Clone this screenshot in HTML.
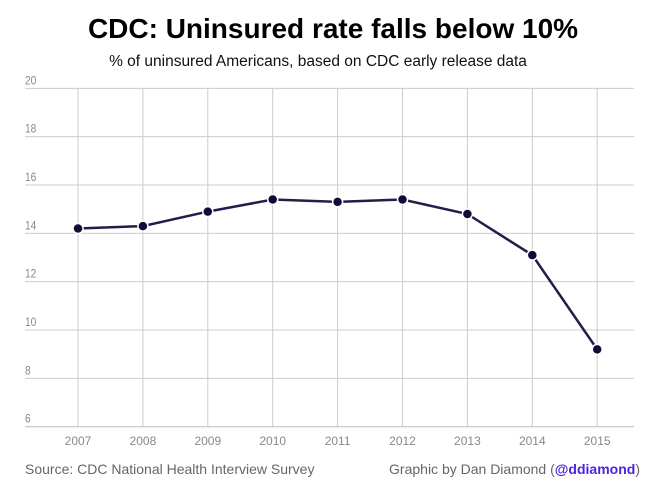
<!DOCTYPE html>
<html><head><meta charset="utf-8"><style>
body{margin:0;width:650px;height:490px;background:#fff;overflow:hidden;font-family:"Liberation Sans",sans-serif}
</style></head><body>
<svg width="650" height="490">
<text x="333" y="38" text-anchor="middle" font-size="28" font-weight="bold" fill="#000">CDC: Uninsured rate falls below 10%</text>
<text x="318" y="66" text-anchor="middle" font-size="15.5" fill="#111">% of uninsured Americans, based on CDC early release data</text>
<g id="grid"></g><g id="series"></g>
<text x="25" y="474" font-size="14" fill="#666">Source: CDC National Health Interview Survey</text>
<text x="640" y="474" text-anchor="end" font-size="14" fill="#666">Graphic by Dan Diamond (<tspan fill="#4b22e0" font-weight="bold">@ddiamond</tspan>)</text>
</svg>
<script>
const years=[2007,2008,2009,2010,2011,2012,2013,2014,2015];
const rates=[14.2,14.3,14.9,15.4,15.3,15.4,14.8,13.1,9.2];
const yTicks=[6,8,10,12,14,16,18,20];
const NS="http://www.w3.org/2000/svg";
const X=y=>78+(y-2007)*64.9;
const Y=v=>426.7-(v-6)*24.17;
const g=document.getElementById('grid'),s=document.getElementById('series');
function mk(t,a,p){const e=document.createElementNS(NS,t);for(const k in a)e.setAttribute(k,a[k]);p.appendChild(e);return e;}
yTicks.forEach(t=>{
 const l=mk('line',{x1:25,x2:634,y1:Y(t),y2:Y(t),stroke:t==6?'#bbb':'#ccc','stroke-width':1},g);
 
 
 const tx=mk('text',{x:25,y:Y(t)-4,'font-size':12,fill:'#888',transform:'scale(0.85,1)','transform-origin':'25 0'},g);tx.textContent=t;
 
 
});
years.forEach(yr=>{
 const l=mk('line',{x1:X(yr),x2:X(yr),y1:Y(20),y2:Y(6),stroke:'#ccc','stroke-width':1},g);
 
 
 const tx=mk('text',{x:X(yr),y:445,'font-size':12,fill:'#888','text-anchor':'middle'},g);tx.textContent=yr;
 
 
});
const pl=mk('polyline',{points:years.map((yr,i)=>X(yr)+','+Y(rates[i])).join(' '),fill:'none',stroke:'#2a1a4a','stroke-width':2.5},s);


years.forEach((yr,i)=>{
 const c=mk('circle',{cx:X(yr),cy:Y(rates[i]),r:5,fill:'#15093a',stroke:'#fff','stroke-width':1.5},s);
 
 
});
</script>
</body></html>
